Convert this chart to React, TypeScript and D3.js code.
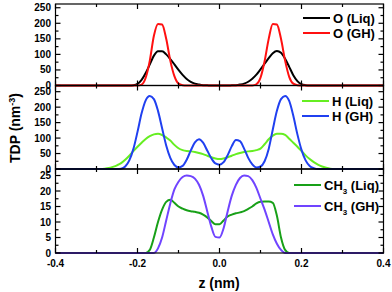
import React from 'react';
import * as d3 from 'd3';

// --- data: z grid (nm) and density profiles ---
const zGrid = [
  -0.30, -0.29, -0.28, -0.27, -0.26, -0.25, -0.24, -0.23, -0.22, -0.21,
  -0.20, -0.19, -0.18, -0.17, -0.16, -0.15, -0.14, -0.13, -0.12, -0.11,
  -0.10, -0.09, -0.08, -0.07, -0.06, -0.05, -0.04, -0.03, -0.02, -0.01,
  0.00, 0.01, 0.02, 0.03, 0.04, 0.05, 0.06, 0.07, 0.08, 0.09,
  0.10, 0.11, 0.12, 0.13, 0.14, 0.15, 0.16, 0.17, 0.18, 0.19,
  0.20, 0.21, 0.22, 0.23, 0.24, 0.25, 0.26, 0.27, 0.28, 0.29, 0.30,
];

const oLiq = [
  0, 0, 0, 0, 0, 0, 0, 0, 0, 1,
  5, 18, 40, 68, 96, 110, 110, 100, 85, 68,
  50, 34, 21, 12, 6, 3, 1, 0.5, 0, 0,
  0, 0, 0, 0.5, 1, 3, 6, 12, 22, 35,
  52, 70, 88, 104, 111, 105, 86, 60, 33, 14,
  4, 1, 0, 0, 0, 0, 0, 0, 0, 0, 0,
];
const oGH = [
  0, 0, 0, 0, 0, 0, 0, 0, 0, 0,
  0, 3, 25, 80, 160, 198, 196, 150, 80, 30,
  6, 1, 0, 0, 0, 0, 0, 0, 0, 0,
  0, 0, 0, 0, 0, 0, 0, 0, 0, 4,
  25, 78, 150, 198, 196, 150, 80, 28, 6, 1,
  0, 0, 0, 0, 0, 0, 0, 0, 0, 0, 0,
];
const hLiq = [
  0, 0, 1, 3, 7, 12, 19, 30, 43, 58,
  72, 85, 97, 106, 112, 114, 110, 102, 92, 78,
  67, 61, 58, 57, 55, 52, 48, 43, 38, 34,
  32, 34, 38, 43, 48, 52, 55, 57, 58, 61,
  66, 80, 96, 108, 114, 114, 110, 98, 85, 72,
  58, 44, 32, 22, 14, 8, 4, 1, 0, 0, 0,
];
const hGH = [
  0, 0, 0, 0, 0, 0, 1, 8, 28, 65,
  120, 180, 222, 236, 226, 188, 132, 76, 36, 13,
  5, 10, 30, 60, 86, 96, 85, 60, 35, 18,
  14, 22, 45, 74, 94, 90, 66, 36, 15, 5,
  8, 25, 65, 128, 188, 226, 236, 220, 172, 112,
  62, 28, 10, 3, 0, 0, 0, 0, 0, 0, 0,
];
const ch3Liq = [
  0, 0, 0, 0, 0, 0, 0, 0, 0, 0,
  0, 0, 0, 1, 5, 10, 14, 16.5, 17.2, 16.2,
  15, 14.3, 13.8, 13.5, 13.3, 13, 12.4, 11.5, 10.3, 9.3,
  9.3, 10.5, 11.8, 12.4, 12.8, 13.1, 13.5, 14.2, 15, 16,
  16.5, 16.6, 16.6, 16.2, 12, 5, 1, 0, 0, 0,
  0, 0, 0, 0, 0, 0, 0, 0, 0, 0, 0,
];
const ch3GH = [
  0, 0, 0, 0, 0, 0, 0, 0, 0, 0,
  0, 0, 0, 0, 0, 1.5, 5, 10.5, 16, 20.5,
  23, 24.5, 25, 24.8, 24, 22, 18.5, 13.5, 8.5, 5.2,
  5, 8, 13.5, 18.5, 22, 24.2, 25, 24.8, 23.5, 21,
  17.5, 14, 10, 6, 3, 1, 0, 0, 0, 0,
  0, 0, 0, 0, 0, 0, 0, 0, 0, 0, 0,
];

const xTickLabels = ['-0.4', '-0.2', '0.0', '0.2', '0.4'];

const W = 392;
const H = 292;
const left = 55.5;
const right = 383.5;
const font = 'Liberation Sans, Arial, sans-serif';

const xScale = d3.scaleLinear().domain([-0.4, 0.4]).range([left, right]);

type Series = { name: string; sub?: string; suffix: string; color: string; values: number[] };
type Panel = {
  top: number; bottom: number; max: number; major: number; minor: number; labelMax: number;
  legendY: number[]; legendX: number; series: Series[];
};

const panels: Panel[] = [
  {
    top: 4, bottom: 85.5, max: 262, major: 50, minor: 25, labelMax: 250,
    legendY: [18, 33], legendX: 303,
    series: [
      { name: 'O', suffix: ' (Liq)', color: '#000000', values: oLiq },
      { name: 'O', suffix: ' (GH)', color: '#ff1010', values: oGH },
    ],
  },
  {
    top: 85.5, bottom: 169, max: 270, major: 50, minor: 25, labelMax: 250,
    legendY: [101, 116], legendX: 302,
    series: [
      { name: 'H', suffix: ' (Liq)', color: '#66ee22', values: hLiq },
      { name: 'H', suffix: ' (GH)', color: '#2040f0', values: hGH },
    ],
  },
  {
    top: 169, bottom: 253, max: 27.1, major: 5, minor: 2.5, labelMax: 25,
    legendY: [185, 206], legendX: 294,
    series: [
      { name: 'CH', sub: '3', suffix: ' (Liq)', color: '#18a018', values: ch3Liq },
      { name: 'CH', sub: '3', suffix: ' (GH)', color: '#7044ff', values: ch3GH },
    ],
  },
];

const PanelView = ({ p }: { p: Panel }) => {
  const y = d3.scaleLinear().domain([0, p.max]).range([p.bottom, p.top]);
  const line = d3.line<number>()
    .x((_, i) => xScale(i < 0 ? 0 : zGrid[i]))
    .y(v => y(v))
    .curve(d3.curveMonotoneX);

  const xMinor = d3.range(-0.4, 0.41, 0.1).map(v => +v.toFixed(2));
  const yTicks = d3.range(0, p.max + 0.001, p.minor);

  return (
    <g>
      {/* flat baselines out to the edges */}
      {p.series.map((s, k) => (
        <g key={k}>
          <line x1={xScale(-0.4)} x2={xScale(zGrid[0])} y1={y(0)} y2={y(0)} stroke={s.color} strokeWidth={2} />
          <line x1={xScale(zGrid[zGrid.length - 1])} x2={xScale(0.4)} y1={y(0)} y2={y(0)} stroke={s.color} strokeWidth={2} />
          <path d={line(s.values) || ''} fill="none" stroke={s.color} strokeWidth={2} strokeLinejoin="round" />
        </g>
      ))}

      <rect x={left} y={p.top} width={right - left} height={p.bottom - p.top} fill="none" stroke="#000" strokeWidth={1.2} />

      {xMinor.map((v, i) => {
        const len = Math.abs(Math.round(v * 10)) % 2 === 0 ? 5 : 3;
        const x = xScale(v);
        return (
          <g key={i}>
            <line x1={x} x2={x} y1={p.bottom} y2={p.bottom - len} stroke="#000" strokeWidth={1.2} />
            <line x1={x} x2={x} y1={p.top} y2={p.top + len} stroke="#000" strokeWidth={1.2} />
          </g>
        );
      })}

      {yTicks.map((v, i) => {
        const isMajor = Math.abs(v / p.major - Math.round(v / p.major)) < 1e-6;
        const len = isMajor ? 5 : 3;
        const yy = y(v);
        return (
          <g key={i}>
            <line x1={left} x2={left + len} y1={yy} y2={yy} stroke="#000" strokeWidth={1.2} />
            <line x1={right} x2={right - len} y1={yy} y2={yy} stroke="#000" strokeWidth={1.2} />
            {isMajor && v <= p.labelMax && (
              <text x={51} y={yy} dy="0.35em" textAnchor="end" fontSize={10} fontWeight="bold" fontFamily={font}>
                {v}
              </text>
            )}
          </g>
        );
      })}

      {p.series.map((s, k) => (
        <g key={'l' + k}>
          <line x1={p.legendX} x2={p.legendX + 27} y1={p.legendY[k]} y2={p.legendY[k]} stroke={s.color} strokeWidth={2} />
          <text x={p.legendX + 30} y={p.legendY[k]} dy="0.35em" fontSize={13} fontWeight="bold" fontFamily={font}>
            {s.name}
            {s.sub && <tspan dy={4} fontSize={8}>{s.sub}</tspan>}
            <tspan dy={s.sub ? -4 : 0}>{s.suffix}</tspan>
          </text>
        </g>
      ))}
    </g>
  );
};

export default function App() {
  return (
    <svg width={W} height={H} style={{ position: 'absolute', left: 0, top: 0, background: '#fff' }}>
      {panels.map((p, i) => <PanelView key={i} p={p} />)}

      {xTickLabels.map((t, i) => (
        <text key={i} x={xScale(+t)} y={263} dy="0.35em" textAnchor="middle" fontSize={10} fontWeight="bold" fontFamily={font}>
          {t}
        </text>
      ))}

      <text x={219} y={283} dy="0.35em" textAnchor="middle" fontSize={14} fontWeight="bold" fontFamily={font}>
        z (nm)
      </text>

      <text transform="translate(15,128) rotate(-90)" dy="0.35em" textAnchor="middle" fontSize={14} fontWeight="bold" fontFamily={font}>
        TDP (nm<tspan dy={-5} fontSize={9}>-3</tspan><tspan dy={5}>)</tspan>
      </text>
    </svg>
  );
}
